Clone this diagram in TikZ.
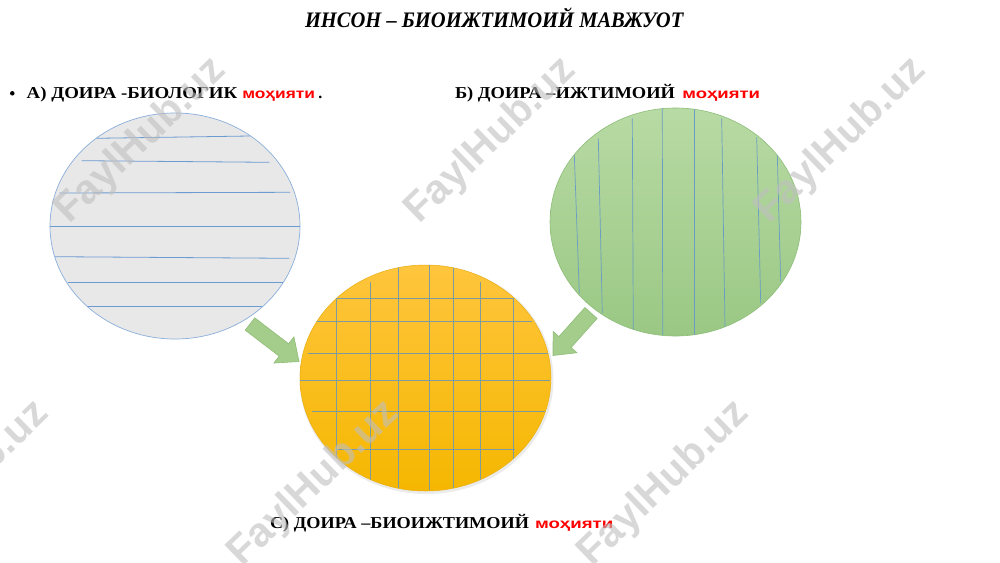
\documentclass[tikz,border=0pt]{standalone}
\usepackage{fontspec}
\usepackage{graphicx}
\setmainfont{Liberation Serif}
\newfontfamily\redsans{Liberation Sans}
\newfontfamily\wmfont{Liberation Sans}
\usetikzlibrary{calc,shapes.geometric}
\definecolor{lgray}{HTML}{E8E8E8}
\definecolor{lborder}{HTML}{8AAEDB}
\definecolor{lline}{HTML}{6C9BD2}
\definecolor{gtop}{HTML}{B8DAA4}
\definecolor{gbot}{HTML}{9AC884}
\definecolor{gborder}{HTML}{8DBE78}
\definecolor{gline}{HTML}{6A9DC4}
\definecolor{ytop}{HTML}{FFC53D}
\definecolor{ybot}{HTML}{F5B700}
\definecolor{yborder}{HTML}{E9AE10}
\definecolor{ygrid}{HTML}{7E9BA0}
\definecolor{arrowg}{HTML}{A4CD8C}
\definecolor{arrowb}{HTML}{8FBD77}
\definecolor{redtxt}{HTML}{FF0000}
\newcommand\fittext[4]{\resizebox{#1pt}{#2pt}{\smash{#4}\rule{0pt}{\fontcharht\font`#3}}}
\newcommand\blockarrow[5]{%
  \fill[arrowfill] ($(#1)!#3pt!90:(#2)$) -- ($($(#2)!#5pt!(#1)$)!#3pt!90:(#2)$)
    -- ($($(#2)!#5pt!(#1)$)!#4pt!90:(#2)$) -- (#2)
    -- ($($(#2)!#5pt!(#1)$)!#4pt!-90:(#2)$) -- ($($(#2)!#5pt!(#1)$)!#3pt!-90:(#2)$)
    -- ($(#1)!#3pt!-90:(#2)$) -- cycle;}
\tikzset{
  txt/.style={anchor=base west, inner sep=0pt, outer sep=0pt},
  arrowfill/.style={fill=arrowg, draw=arrowb, line width=0.6pt, line join=miter},
  wm/.style={font=\wmfont\bfseries\fontsize{41}{41}\selectfont, text=black!25, text opacity=0.6, inner sep=0pt, rotate=44},
  circ/.style={ellipse, inner sep=0pt, minimum width=251pt},
}
\begin{document}
\begin{tikzpicture}[x=1pt, y=-1pt]
\useasboundingbox (0,0) rectangle (1000,562);
\fill[white] (0,0) rectangle (1000,562);

% title
\node[txt] (title) at (305,27.7) {\bfseries\itshape\fittext{378.3}{14.5}{И}{ИНСОН – БИОИЖТИМОИЙ МАВЖУОТ}};

% labels
\node[circle, fill=black, inner sep=0pt, minimum size=4.5pt] (bul) at (12.3,93.3) {};
\node[txt] (la) at (26.7,98.7) {\bfseries\fittext{210.6}{10.9}{И}{А) ДОИРА -БИОЛОГИК}};
\node[txt, text=redtxt] (lar) at (242.3,98.7) {\redsans\bfseries\fittext{72.7}{7.4}{x}{моҳияти}};
\node[txt] (ladot) at (318.3,98.7) {\bfseries\fontsize{16}{16}\selectfont .};
\node[txt] (lb) at (455,98.7) {\bfseries\fittext{220}{10.9}{И}{Б) ДОИРА –ИЖТИМОИЙ}};
\node[txt, text=redtxt] (lbr) at (682.3,98.7) {\redsans\bfseries\fittext{77.7}{7.4}{x}{моҳияти}};
\node[txt] (lc) at (270,528.7) {\bfseries\fittext{259}{10.9}{И}{С) ДОИРА –БИОИЖТИМОИЙ}};
\node[txt, text=redtxt] (lcr) at (535,528.7) {\redsans\bfseries\fittext{78.3}{7.4}{x}{моҳияти}};

% left (gray) ellipse
\node[circ, minimum width=250pt, minimum height=226pt, fill=lgray, draw=lborder, line width=0.7pt] (bio) at (175,226) {};
\begin{scope}[lline, line width=0.8pt]
\clip (175,226) ellipse [x radius=125pt, y radius=113pt];
\draw (96.7,138.3) -- (250,136);
\draw (81.7,160.7) -- (269.3,162.3);
\draw (59.3,193) -- (290,192.3);
\draw (48,226.7) -- (302,226.7);
\draw (55,256.7) -- (289.3,258.3);
\draw (68.3,282.3) -- (283.3,282.3);
\draw (87.3,306.7) -- (261.7,306.7);
\end{scope}

% right (green) ellipse
\node[circ, minimum width=251pt, minimum height=228pt, top color=gtop, bottom color=gbot, draw=gborder, line width=0.6pt] (soc) at (675.5,222) {};
\begin{scope}[gline, line width=0.7pt]
\clip (675.5,222) ellipse [x radius=125.5pt, y radius=114pt];
\draw (574.3,155) -- (579.3,293.3);
\draw (598.3,138.3) -- (602.3,313.3);
\draw (632.3,118.3) -- (633.3,329.3);
\draw (662.3,108.3) -- (662.7,335);
\draw (694.3,108.3) -- (694.3,335);
\draw (721.7,118.3) -- (725,326.7);
\draw (756.7,137.3) -- (760.7,303.3);
\draw (777.3,155) -- (780.7,281.7);
\end{scope}

% centre (yellow) ellipse
\fill[black, opacity=0.08] (426.5,379.5) ellipse [x radius=127pt, y radius=114.5pt];
\node[circ, minimum width=251pt, minimum height=226pt, top color=ytop, bottom color=ybot, draw=yborder, line width=0.5pt] (bsoc) at (425.5,378) {};
\begin{scope}[ygrid, line width=0.6pt]
\clip (425.5,378) ellipse [x radius=125.5pt, y radius=113pt];
\draw (336.7,298.3) -- (336.7,480);
\draw (370,281.7) -- (370,483.3);
\draw (398.3,265) -- (398.3,488.3);
\draw (429,265) -- (429,490);
\draw (453.3,265) -- (453.3,488.3);
\draw (480.7,281.7) -- (480.7,483.3);
\draw (513.3,298.3) -- (513.3,466.7);
\draw (336.7,298.3) -- (513.3,298.3);
\draw (311.7,321.7) -- (531.7,321.7);
\draw (308.3,353.3) -- (550,353.3);
\draw (300,380) -- (550,380);
\draw (311.7,411.7) -- (545,411.7);
\draw (336.7,449) -- (515,449);
\end{scope}

% block arrows
\coordinate (ta) at (250,324);
\coordinate (pa) at (299,361.5);
\coordinate (tb) at (591,313);
\coordinate (pb) at (553,355.5);
\blockarrow{ta}{pa}{7.8}{16.5}{19}
\blockarrow{tb}{pb}{8.2}{16}{18}

% watermarks
\node[wm] (wm1) at (141,141) {FaylHub.uz};
\node[wm] (wm2) at (491,141) {FaylHub.uz};
\node[wm] (wm3) at (841,141) {FaylHub.uz};
\node[wm] (wm4) at (-36,484) {FaylHub.uz};
\node[wm] (wm5) at (314,484) {FaylHub.uz};
\node[wm] (wm6) at (664,484) {FaylHub.uz};
\end{tikzpicture}
\end{document}
